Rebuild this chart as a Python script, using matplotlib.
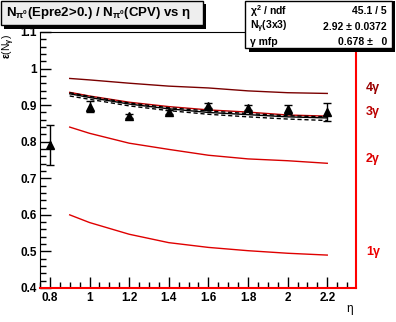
import matplotlib
matplotlib.use("Agg")
from matplotlib import pyplot as plt
from matplotlib.patches import Rectangle
from matplotlib.ticker import MultipleLocator
import numpy as np

plt.rcParams['font.family'] = ['Liberation Sans', 'DejaVu Sans']
plt.rcParams['font.weight'] = 'bold'
plt.rcParams['mathtext.fontset'] = 'custom'
plt.rcParams['mathtext.rm'] = 'Liberation Sans:bold'
plt.rcParams['mathtext.it'] = 'Liberation Sans:bold'
plt.rcParams['mathtext.bf'] = 'Liberation Sans:bold'
plt.rcParams['mathtext.default'] = 'rm'

# measured points
eta = [0.8, 1.0, 1.2, 1.4, 1.6, 1.8, 2.0, 2.2]
eff = [0.791, 0.896, 0.870, 0.881, 0.899, 0.893, 0.889, 0.881]
eff_err = [0.055, 0.016, 0.005, 0.006, 0.006, 0.007, 0.012, 0.024]

# model curves vs eta
eta_c = [0.9, 1.0, 1.2, 1.4, 1.6, 1.8, 2.0, 2.2]
g1 = [0.600, 0.579, 0.547, 0.524, 0.511, 0.502, 0.495, 0.490]
g2 = [0.840, 0.823, 0.796, 0.779, 0.763, 0.753, 0.748, 0.741]
g3 = [0.935, 0.925, 0.908, 0.896, 0.887, 0.881, 0.873, 0.870]
g4 = [0.973, 0.969, 0.960, 0.952, 0.947, 0.939, 0.934, 0.932]
fit = [0.931, 0.921, 0.903, 0.890, 0.880, 0.874, 0.868, 0.865]
fit_lo = [0.925, 0.916, 0.898, 0.885, 0.875, 0.868, 0.862, 0.858]
fit_hi = [0.934, 0.924, 0.906, 0.893, 0.884, 0.877, 0.871, 0.868]

fig = plt.figure(figsize=(3.96, 3.22), dpi=100)
ax = fig.add_axes([40/396, 34/322, 316/396, 256/322])

ax.plot(eta_c, g1, color='#e00000', lw=1)
ax.plot(eta_c, g2, color='#d80000', lw=1)
ax.plot(eta_c, g3, color='#c00000', lw=1)
ax.plot(eta_c, g4, color='#7a0000', lw=1)
ax.plot(eta_c, fit, color='black', lw=1)
ax.plot(eta_c, fit_lo, color='black', lw=1, ls=(0, (3, 2)))
ax.plot(eta_c, fit_hi, color='black', lw=1, ls=(0, (3, 2)))

ax.errorbar(eta, eff, yerr=eff_err, fmt='^', color='black', ms=5.5,
            elinewidth=1, capsize=3, capthick=1)

ax.set_xlim(0.75, 2.345)
ax.set_ylim(0.4, 1.1)
ax.xaxis.set_minor_locator(MultipleLocator(0.05))
ax.yaxis.set_minor_locator(MultipleLocator(0.02))
ax.set_xticks([0.8, 1.0, 1.2, 1.4, 1.6, 1.8, 2.0, 2.2])
ax.set_xticklabels(['0.8', '1', '1.2', '1.4', '1.6', '1.8', '2', '2.2'])
ax.set_yticks([0.4, 0.5, 0.6, 0.7, 0.8, 0.9, 1.0, 1.1])
ax.set_yticklabels(['0.4', '0.5', '0.6', '0.7', '0.8', '0.9', '1', '1.1'])
ax.tick_params(axis='both', which='major', direction='in', length=8,
               labelsize=8.5, width=1)
ax.tick_params(axis='both', which='minor', direction='in', length=4, width=1)
ax.tick_params(axis='x', pad=3)
ax.tick_params(axis='y', pad=2)
for lab in ax.get_xticklabels() + ax.get_yticklabels():
    lab.set_fontweight('bold')

ax.spines['bottom'].set_color('red')
ax.spines['right'].set_color('red')
ax.spines['bottom'].set_linewidth(1.5)
ax.spines['right'].set_linewidth(1.5)

fig.text(350/396, 1 - 309/322, '\u03b7', fontsize=8.5, fontweight='normal',
         ha='center', va='center')
fig.text(9/396, 1 - 46/322, r'$\epsilon$(N$_\gamma$)', fontsize=7.5, rotation=90,
         fontweight='normal', ha='center', va='center')

# labels for photon multiplicity
fig.text(373/396, 1 - 88/322, '4\u03b3', color='#990000', fontsize=9, ha='center', va='center')
fig.text(373/396, 1 - 112/322, '3\u03b3', color='#bb0000', fontsize=9, ha='center', va='center')
fig.text(373/396, 1 - 159/322, '2\u03b3', color='#dd0000', fontsize=9, ha='center', va='center')
fig.text(373/396, 1 - 252/322, '1\u03b3', color='#ee0000', fontsize=9, ha='center', va='center')

# title box
fig.patches.append(Rectangle((4/396, 1 - 29/322), 202/396, 25/322, transform=fig.transFigure,
                             facecolor='black', edgecolor='none', zorder=1))
fig.patches.append(Rectangle((1/396, 1 - 25/322), 202/396, 24/322, transform=fig.transFigure,
                             facecolor='#eeeeee', edgecolor='black', lw=1, zorder=2))
fig.text(6/396, 1 - 13/322,
         r'N$_{\pi^0}$(Epre2>0.) / N$_{\pi^0}$(CPV) vs $\eta$',
         fontsize=9.5, ha='left', va='center', zorder=3)

# fit statistics box
fig.patches.append(Rectangle((249/396, 1 - 52/322), 146/396, 51/322, transform=fig.transFigure,
                             facecolor='black', edgecolor='none', zorder=1))
fig.patches.append(Rectangle((245/396, 1 - 48/322), 147/396, 47/322, transform=fig.transFigure,
                             facecolor='white', edgecolor='black', lw=1, zorder=2))
rows = [('\u03c7$^2$ / ndf', '45.1 / 5'),
        ('N$_\\gamma$(3x3)', '2.92 \u00b1 0.0372'),
        ('\u03b3 mfp', '0.678 \u00b1   0')]
row_y = [11, 27, 42]
for (name, val), yy in zip(rows, row_y):
    y = 1 - yy / 322
    fig.text(250/396, y, name, fontsize=7.5, ha='left', va='center', zorder=3)
    fig.text(387/396, y, val, fontsize=7.5, ha='right', va='center', zorder=3)

fig.savefig('out.png', dpi=100)
